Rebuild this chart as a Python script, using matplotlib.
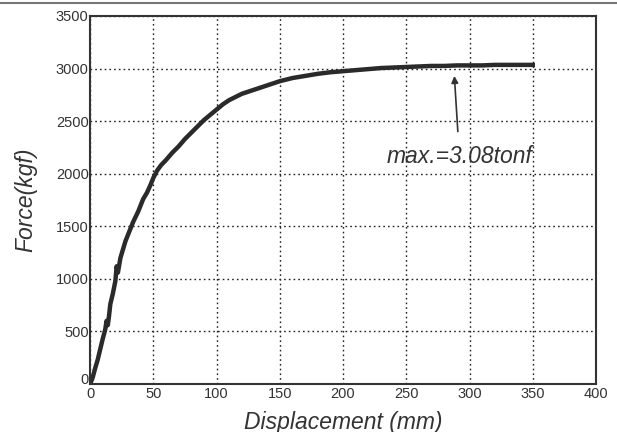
import matplotlib
matplotlib.use("Agg")
import matplotlib.pyplot as plt
import matplotlib.transforms as mtransforms
from matplotlib.lines import Line2D

# Data (displacement mm, force kgf)
displacement = [0, 2, 4, 6, 8, 10, 12, 13, 14, 15, 16, 18, 20, 21, 22, 24, 26, 28, 30, 32,
                34, 36, 38, 40, 42, 45, 48, 50, 53, 56, 60, 65, 70, 75, 80, 85, 90, 95,
                100, 105, 110, 115, 120, 125, 130, 135, 140, 145, 150, 160, 170, 180, 190,
                200, 210, 220, 230, 240, 250, 260, 270, 280, 290, 300, 310, 320, 330, 340, 350]
force = [0, 60, 150, 230, 330, 430, 520, 600, 560, 650, 760, 860, 980, 1120, 1060, 1200, 1280,
         1360, 1420, 1480, 1540, 1590, 1640, 1700, 1760, 1820, 1900, 1960, 2030, 2080, 2130,
         2200, 2260, 2330, 2390, 2450, 2510, 2560, 2610, 2660, 2700, 2730, 2760, 2780, 2800,
         2820, 2840, 2860, 2880, 2910, 2930, 2950, 2965, 2975, 2985, 2995, 3005, 3010, 3015,
         3020, 3025, 3025, 3030, 3030, 3030, 3035, 3035, 3035, 3035]

x_ticks = [0, 50, 100, 150, 200, 250, 300, 350, 400]
y_ticks = [0, 500, 1000, 1500, 2000, 2500, 3000, 3500]

plt.rcParams['font.family'] = ['Liberation Sans', 'DejaVu Sans']

fig = plt.figure(figsize=(6.17, 4.32), dpi=100)
ax = fig.add_axes([0.146, 0.111, 0.820, 0.852])

# scan border line at the top of the page
fig.add_artist(Line2D([0, 1], [1 - 2.5 / 432, 1 - 2.5 / 432], transform=fig.transFigure,
                      color='#777777', lw=1.5))

ax.plot(displacement, force, color='#2a2a2a', lw=3.2, solid_joinstyle='round')

ax.set_xlim(0, 400)
ax.set_ylim(0, 3500)
ax.set_xticks(x_ticks)
ax.set_yticks(y_ticks)
ax.tick_params(length=0, labelsize=10.5, colors='#333333')
ax.tick_params(axis='y', pad=1)
ax.tick_params(axis='x', pad=2)
ax.grid(True, color='#222222', linestyle=(0, (1.2, 2.2)), linewidth=1.0)
for s in ax.spines.values():
    s.set_linewidth(1.5)
    s.set_color('#333333')

# nudge the y "0" label up slightly so it does not sit on the x "0"
lbl0 = ax.get_yticklabels()[0]
lbl0.set_transform(lbl0.get_transform() +
                   mtransforms.ScaledTranslation(0, 4 / 72, fig.dpi_scale_trans))

ax.set_xlabel('Displacement (mm)', fontsize=16.5, style='italic', color='#333333', labelpad=7)
ax.set_ylabel('Force(kgf)', fontsize=16.5, style='italic', color='#333333', labelpad=13)

ax.annotate('max.=3.08tonf', xy=(288, 2930), xytext=(292, 2160),
            fontsize=16.5, style='italic', color='#333333', ha='center', va='center',
            arrowprops=dict(arrowstyle='-|>', color='#333333', lw=1.2,
                            mutation_scale=10, shrinkA=8, shrinkB=0))

fig.savefig('out.png', dpi=100, facecolor='white')
